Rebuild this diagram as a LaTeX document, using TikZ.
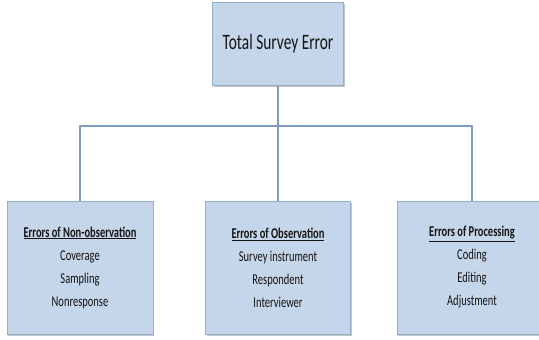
\documentclass[tikz,border=0pt]{standalone}
\usepackage{fontspec}
\setmainfont{Carlito}
\usetikzlibrary{shadows}
\definecolor{boxfill}{HTML}{C6D6EA}
\definecolor{boxline}{HTML}{93ADCB}
\definecolor{conn}{HTML}{7F9CC0}
\definecolor{txt}{HTML}{141414}
\newcommand\sqz[1]{\scalebox{0.7}[1]{#1}}
\tikzset{
  errbox/.style={draw=boxline, line width=1pt, fill=boxfill, rectangle, align=center,
    text=txt, drop shadow={shadow xshift=1pt, shadow yshift=-2pt, fill=black!45, opacity=0.5}},
  subbox/.style={errbox, minimum height=133pt, font=\fontsize{15}{23}\selectfont},
  conline/.style={draw=conn, line width=1.3pt},
}
\begin{document}
\begin{tikzpicture}[x=1pt,y=-1pt]
\useasboundingbox[fill=white] (0,0) rectangle (539,340);
\node[errbox, minimum width=131pt, minimum height=83pt, font=\fontsize{22}{26}\selectfont]
  (top) at (278,43.5) {\sqz{Total Survey Error}};
\node[subbox, minimum width=146pt]
  (b1) at (80,267.5) {\sqz{\underline{\textbf{Errors of Non-observation}}}\\\sqz{Coverage}\\\sqz{Sampling}\\\sqz{Nonresponse}};
\node[subbox, minimum width=145pt]
  (b2) at (278,267.5) {\sqz{\underline{\textbf{Errors of Observation}}}\\\sqz{Survey instrument}\\\sqz{Respondent}\\\sqz{Interviewer}};
\node[subbox, minimum width=150pt]
  (b3) at (472,267.5) {\sqz{\underline{\textbf{Errors of Processing}}}\\\sqz{Coding}\\\sqz{Editing}\\\sqz{Adjustment}};
\coordinate (bus) at (278,126);
\draw[conline] (top.south) -- (b2.north);
\draw[conline] (b1.north) |- (bus) -| (b3.north);
\end{tikzpicture}
\end{document}
